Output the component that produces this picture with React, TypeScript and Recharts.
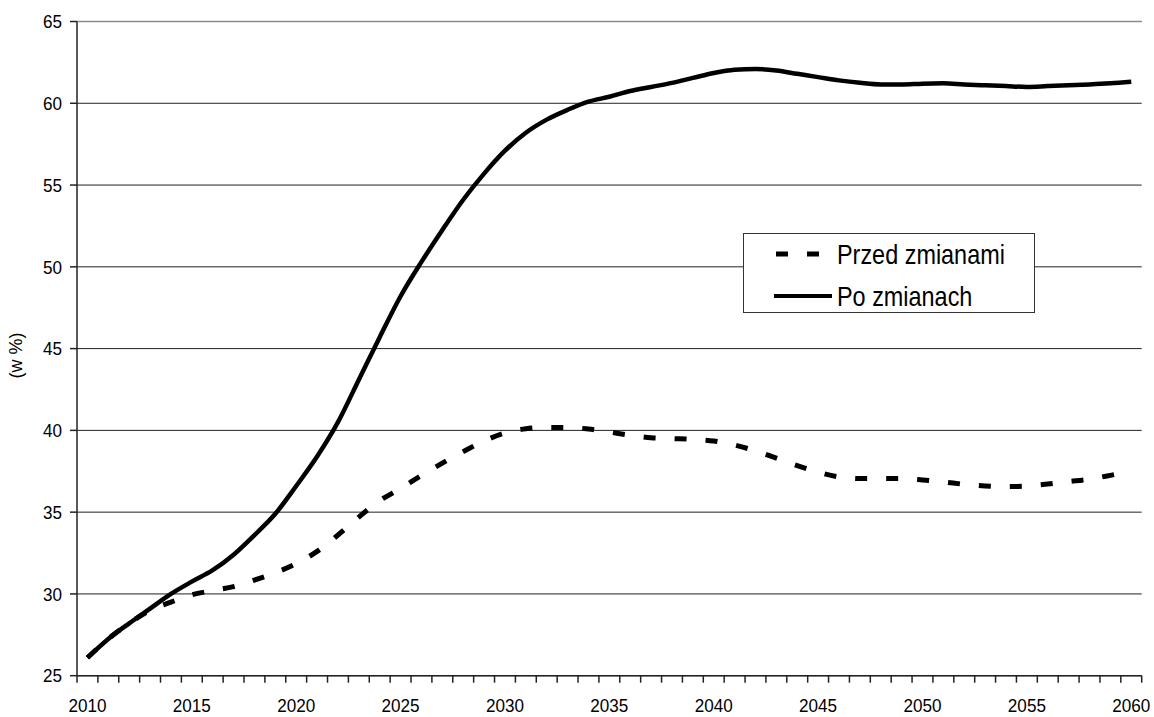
import React from 'react'
import {
  LineChart, Line, XAxis, YAxis, CartesianGrid, ReferenceLine, Legend,
} from 'recharts'

// lata 2010-2060
const years = [
  2010, 2011, 2012, 2013, 2014, 2015, 2016, 2017, 2018, 2019,
  2020, 2021, 2022, 2023, 2024, 2025, 2026, 2027, 2028, 2029,
  2030, 2031, 2032, 2033, 2034, 2035, 2036, 2037, 2038, 2039,
  2040, 2041, 2042, 2043, 2044, 2045, 2046, 2047, 2048, 2049,
  2050, 2051, 2052, 2053, 2054, 2055, 2056, 2057, 2058, 2059,
  2060,
]

const przedZmianami = [
  26.1, 27.25, 28.2, 29.0, 29.5, 29.95, 30.2, 30.45, 30.85, 31.3,
  31.85, 32.6, 33.6, 34.7, 35.7, 36.45, 37.25, 38.0, 38.7, 39.35,
  39.85, 40.1, 40.18, 40.18, 40.08, 39.9, 39.7, 39.55, 39.5, 39.45,
  39.35, 39.1, 38.75, 38.3, 37.85, 37.45, 37.15, 37.05, 37.05, 37.05,
  36.97, 36.85, 36.7, 36.6, 36.56, 36.6, 36.72, 36.87, 37.02, 37.25,
  37.5,
]

const poZmianach = [
  26.1, 27.25, 28.2, 29.1, 30.0, 30.75, 31.45, 32.4, 33.6, 34.9,
  36.6, 38.4, 40.5, 43.1, 45.7, 48.2, 50.3, 52.25, 54.1, 55.7,
  57.1, 58.2, 59.0, 59.6, 60.1, 60.4, 60.75, 61.0, 61.25, 61.55,
  61.85, 62.05, 62.1, 62.0, 61.8, 61.6, 61.4, 61.25, 61.15, 61.15,
  61.2, 61.22, 61.15, 61.1, 61.05, 61.0, 61.05, 61.1, 61.15, 61.22,
  61.32,
]

const yearTicks = [2010, 2015, 2020, 2025, 2030, 2035, 2040, 2045, 2050, 2055, 2060]
const valueTicks = [25, 30, 35, 40, 45, 50, 55, 60, 65]

const data = years.map((year, i) => ({
  year,
  przed: przedZmianami[i],
  po: poZmianach[i],
}))

// znaczniki osi X leza miedzy kategoriami, podpisy na srodku kategorii
const boundaryTicks = [...years.map((y) => y - 0.5), years[years.length - 1] + 0.5]
const xDomain = [years[0] - 0.5, years[years.length - 1] + 0.5]

const font = "'Liberation Sans', Arial, sans-serif"
const axisColor = '#222'
const borderColor = '#8c8c8c'
// brak fontu "narrow" - sciskamy tekst w poziomie
const narrow = 0.9

function XTick({ x, y, width, payload }) {
  const year = payload.value + 0.5
  if (!yearTicks.includes(year)) return null
  const cx = x + width / years.length / 2
  return (
    <text
      transform={`translate(${cx} ${y}) scale(${narrow} 1)`}
      textAnchor="middle"
      dy="0.71em"
      fontSize={19}
      fill="#000"
      fontFamily={font}
    >
      {year}
    </text>
  )
}

function YTick({ x, y, payload }) {
  return (
    <text
      transform={`translate(${x} ${y}) scale(${narrow} 1)`}
      textAnchor="end"
      dy="0.355em"
      fontSize={19}
      fill="#000"
      fontFamily={font}
    >
      {payload.value}
    </text>
  )
}

function LegendBox() {
  const textProps = { fontSize: 28, fill: '#000', fontFamily: font, dominantBaseline: 'central' }
  return (
    <svg width={292} height={80} style={{ display: 'block' }}>
      <rect x={0.5} y={0.5} width={291} height={79} fill="#fff" stroke="#333" />
      <line x1={33} y1={21} x2={80} y2={21} stroke="#000" strokeWidth={5} strokeDasharray="12 19" />
      <text transform="translate(94 21) scale(0.837 1)" {...textProps}>Przed zmianami</text>
      <line x1={31} y1={63} x2={89} y2={63} stroke="#000" strokeWidth={4} />
      <text transform="translate(94 63) scale(0.837 1)" {...textProps}>Po zmianach</text>
    </svg>
  )
}

export default function App() {
  return (
    <div style={{ position: 'absolute', left: 0, top: 0, background: '#fff' }}>
      <LineChart
        width={1154}
        height={717}
        data={data}
        margin={{ top: 21.5, right: 12.3, bottom: 0, left: 0 }}
        style={{ fontFamily: font }}
      >
        <CartesianGrid vertical={false} stroke={axisColor} strokeWidth={1} />
        <ReferenceLine y={65} stroke={borderColor} strokeWidth={1.5} />
        <XAxis
          dataKey="year"
          type="number"
          domain={xDomain}
          ticks={boundaryTicks}
          interval={0}
          height={41.3}
          axisLine={{ stroke: axisColor, strokeWidth: 1.5 }}
          tickLine={{ stroke: axisColor, strokeWidth: 1.5 }}
          tickSize={7}
          tickMargin={16}
          tick={<XTick />}
        />
        <YAxis
          domain={[25, 65]}
          ticks={valueTicks}
          interval={0}
          width={77}
          axisLine={{ stroke: axisColor, strokeWidth: 1.5 }}
          tickLine={{ stroke: axisColor, strokeWidth: 1.5 }}
          tickSize={7}
          tickMargin={8}
          tick={<YTick />}
          label={{
            content: ({ viewBox }) => {
              const cx = 16
              const cy = viewBox.y + viewBox.height / 2 + 7
              return (
                <text
                  x={cx}
                  y={cy}
                  transform={`rotate(-90 ${cx} ${cy})`}
                  textAnchor="middle"
                  dominantBaseline="central"
                  fontSize={18}
                  fill="#000"
                  fontFamily={font}
                >
                  (w %)
                </text>
              )
            },
          }}
        />
        <YAxis
          yAxisId="right"
          orientation="right"
          domain={[25, 65]}
          width={0}
          tick={false}
          tickLine={false}
          axisLine={{ stroke: borderColor, strokeWidth: 1.5 }}
        />
        <Legend
          layout="horizontal"
          verticalAlign="middle"
          content={() => <LegendBox />}
          wrapperStyle={{ position: 'absolute', left: 743, top: 233, width: 292, height: 80 }}
        />
        <Line
          type="monotone"
          dataKey="po"
          name="Po zmianach"
          stroke="#000"
          strokeWidth={4.5}
          dot={false}
          activeDot={false}
          isAnimationActive={false}
        />
        <Line
          type="monotone"
          dataKey="przed"
          name="Przed zmianami"
          stroke="#000"
          strokeWidth={5}
          strokeDasharray="12 19"
          dot={false}
          activeDot={false}
          isAnimationActive={false}
        />
      </LineChart>
    </div>
  )
}
